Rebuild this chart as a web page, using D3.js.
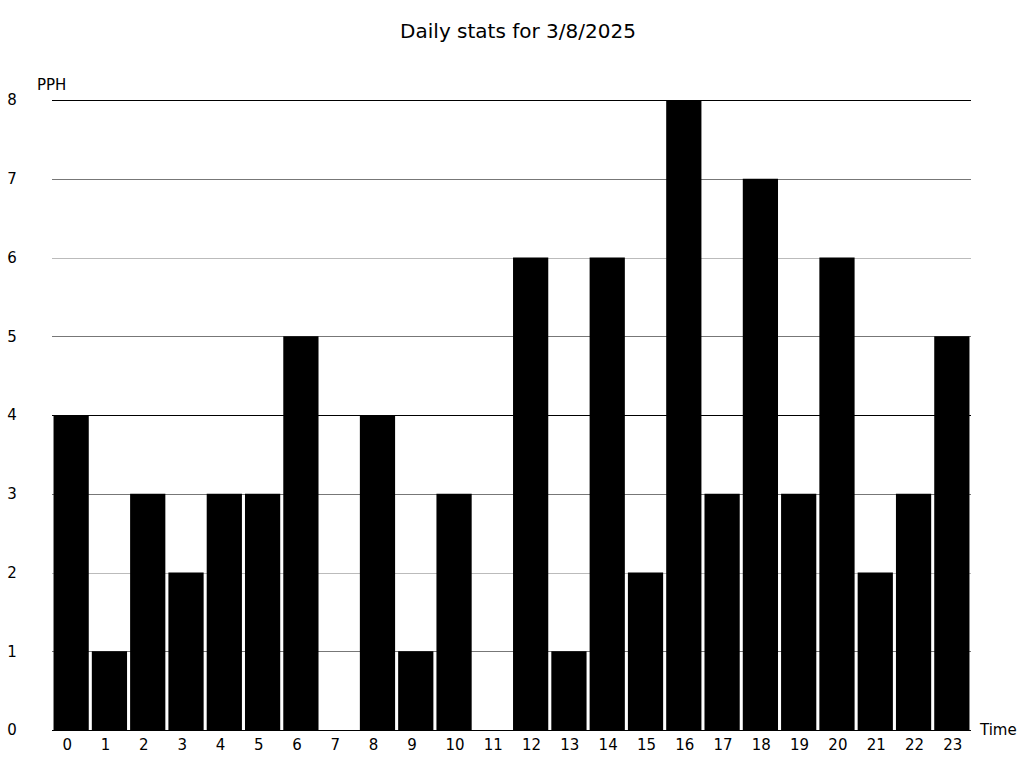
<!DOCTYPE html>
<html><head><meta charset="utf-8">
<script src="https://cdn.jsdelivr.net/npm/d3@7"></script>
<style>html,body{margin:0;padding:0;background:#fff;}text{font-family:"DejaVu Sans",sans-serif;fill:#000;}</style>
</head><body>
<svg id="c" width="1024" height="768"></svg>
<script>
const hours = ["0","1","2","3","4","5","6","7","8","9","10","11","12","13","14","15","16","17","18","19","20","21","22","23"];
const pph = [4,1,3,2,3,3,5,0,4,1,3,0,6,1,6,2,8,3,7,3,6,2,3,5];
const yTicks = [0,1,2,3,4,5,6,7,8];
const title = "Daily stats for 3/8/2025";

(function () {
const svg = d3.select("#c");
const pLeft = 52, pRight = 971, pTop = 100, pBottom = 730;
const x = d3.scaleBand().domain(hours).range([pLeft, pRight]).paddingInner(0.08).paddingOuter(0.04);
const y = d3.scaleLinear().domain([0, 8]).range([pBottom, pTop]);
// emulate sub-pixel anti-aliasing of the hairline grid
const aa = d3.scaleLinear().domain([0, 0.25, 0.5]).range(["#000", "#777", "#bbb"]);
const gridColor = d => { const v = y(d); const f = v - Math.floor(v); return aa(Math.min(f, 1 - f)); };

svg.append("text").attr("x", 518).attr("y", 38).attr("text-anchor", "middle").style("font-size", "20px").text(title);

svg.append("g").selectAll("line").data(yTicks).join("line")
  .attr("x1", pLeft).attr("x2", pRight)
  .attr("y1", d => Math.round(y(d)) + 0.5).attr("y2", d => Math.round(y(d)) + 0.5)
  .attr("stroke", gridColor).attr("stroke-width", 1).attr("shape-rendering", "crispEdges");

svg.append("g").selectAll("text").data(yTicks).join("text")
  .attr("x", 12).attr("y", d => y(d)).attr("dy", "0.35em").attr("text-anchor", "middle")
  .style("font-size", "15px").text(d => d);

svg.append("text").attr("x", 37).attr("y", 90).style("font-size", "15px").text("PPH");

svg.append("g").selectAll("rect").data(pph).join("rect")
  .attr("x", (d, i) => x(hours[i])).attr("width", x.bandwidth())
  .attr("y", d => y(d)).attr("height", d => y(0) - y(d)).attr("fill", "#000");

svg.append("g").selectAll("text").data(hours).join("text")
  .attr("x", d => x(d) + 9).attr("y", 745).attr("dy", "0.35em").attr("text-anchor", "start")
  .style("font-size", "15px").text(d => d);

svg.append("text").attr("x", 980).attr("y", 730).attr("dy", "0.35em").style("font-size", "15px").text("Time");
})();
</script>
</body></html>
